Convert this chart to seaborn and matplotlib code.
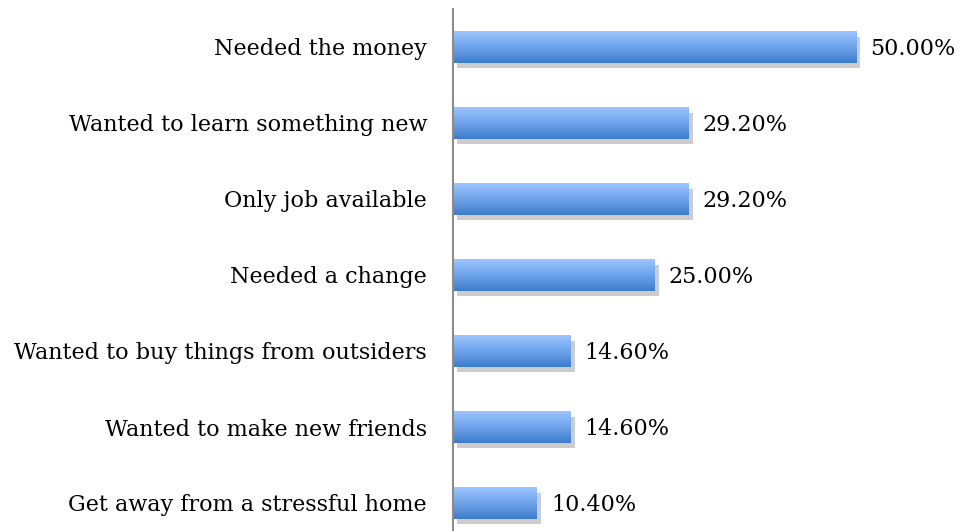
import numpy as np
import pandas as pd
import matplotlib
matplotlib.use('Agg')
import matplotlib.pyplot as plt
import matplotlib.patheffects as pe
from matplotlib.colors import LinearSegmentedColormap
import seaborn as sns

# data
reasons = ['Needed the money', 'Wanted to learn something new', 'Only job available',
           'Needed a change', 'Wanted to buy things from outsiders',
           'Wanted to make new friends', 'Get away from a stressful home']
percent = [50.0, 29.2, 29.2, 25.0, 14.6, 14.6, 10.4]

df = pd.DataFrame({'reason': reasons, 'percent': percent})

sns.set_style('white')
plt.rcParams['font.family'] = ['DejaVu Serif']

fig = plt.figure(figsize=(9.62, 5.31), dpi=100)
ax = fig.add_axes([453 / 962, 0, 509 / 962, 522 / 531])

sns.barplot(data=df, x='percent', y='reason', orient='h', width=0.41,
            color='#6a9fe6', linewidth=0, ax=ax)

# vertical gradient inside each bar, plus a soft drop shadow
grad_cmap = LinearSegmentedColormap.from_list('bar', ['#3c7dcd', '#6fa3ea', '#9cc4ff'])
grad = np.linspace(0, 1, 64).reshape(-1, 1)
for p in ax.patches:
    p.set_path_effects([pe.SimplePatchShadow(offset=(3, -4), shadow_rgbFace='#b8b8b8', alpha=0.7),
                        pe.Normal()])
    x0, y0 = p.get_x(), p.get_y()
    w, h = p.get_width(), p.get_height()
    im = ax.imshow(grad, cmap=grad_cmap, aspect='auto', origin='upper',
                   extent=[x0, x0 + w, y0, y0 + h], zorder=p.get_zorder() + 0.1)
    im.set_clip_path(p)
    ax.text(x0 + w + 1.75, y0 + h / 2 + 0.02, '{:.2f}%'.format(w), va='center', ha='left',
            fontsize=16, color='#000000')

ax.set_xlim(0, 63.15)
ax.set_ylim(6 + 28 / 76, -0.5)
ax.set_xlabel('')
ax.set_ylabel('')
ax.set_xticks([])
ax.tick_params(axis='y', length=0, pad=18.7, labelsize=16, labelcolor='#000000')
for s in ['top', 'right', 'bottom']:
    ax.spines[s].set_visible(False)
ax.spines['left'].set_color('#8c8c8c')
ax.spines['left'].set_linewidth(1.5)

fig.savefig('out.png', dpi=100)
